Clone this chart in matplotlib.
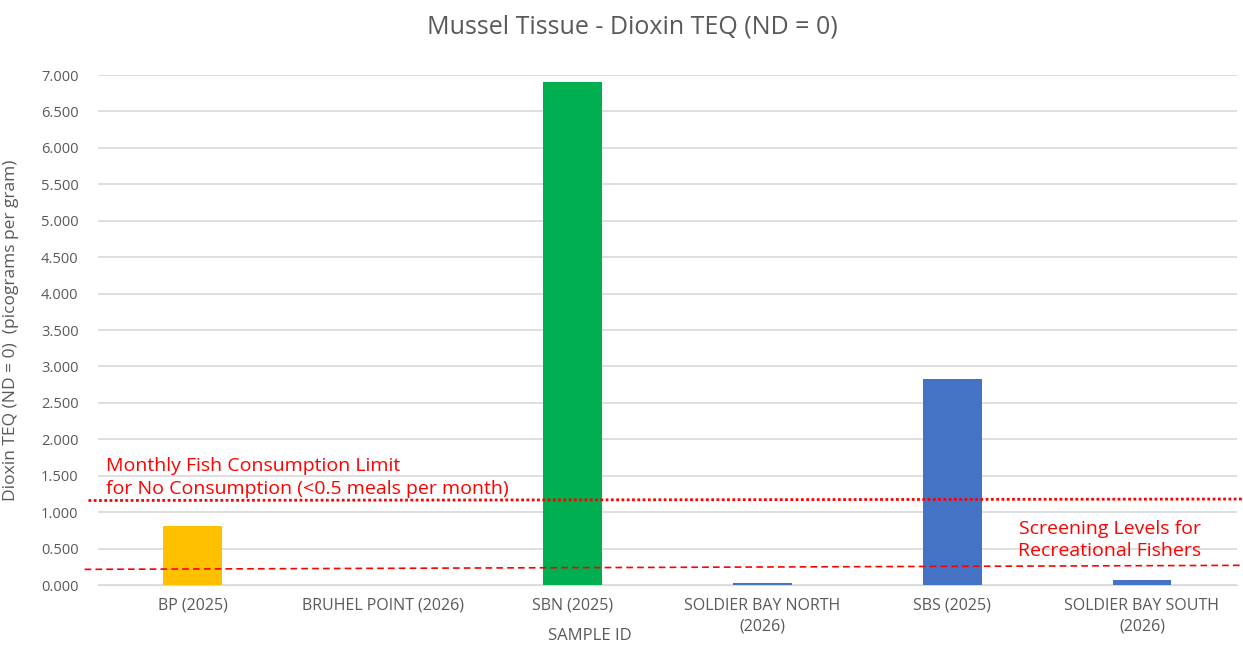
import matplotlib
matplotlib.use('Agg')
import matplotlib.pyplot as plt
import numpy as np

plt.rcParams['font.family'] = ['Open Sans', 'DejaVu Sans']

samples = ['BP (2025)', 'BRUHEL POINT (2026)', 'SBN (2025)',
           'SOLDIER BAY NORTH\n(2026)', 'SBS (2025)', 'SOLDIER BAY SOUTH\n(2026)']
teq = [0.815, 0.0, 6.905, 0.03, 2.83, 0.07]
bar_colors = ['#FFC000', '#4472C4', '#00B050', '#4472C4', '#4472C4', '#4472C4']

# reference lines drawn as slightly tilted shapes (start, end)
fish_limit = [1.16, 1.18]
screening = [0.215, 0.27]

yticks = np.arange(0, 7.01, 0.5)

fig = plt.figure(figsize=(12.43, 6.46), dpi=100)
fig.patch.set_facecolor('white')
ax = fig.add_axes([0.0788, 0.0944, 0.9163, 0.7895])

x = np.arange(len(samples))
ax.bar(x, teq, 0.31, color=bar_colors, zorder=3)

ax.set_xlim(-0.5, 5.5)
ax.set_ylim(0, 7.0)
ax.set_yticks(yticks)
ax.set_yticklabels([f'{v:.3f}' for v in yticks], fontsize=10.5, color='#595959')
ax.set_xticks(x)
ax.set_xticklabels(samples, fontsize=11.5, color='#595959', linespacing=1.45)
ax.tick_params(length=0, pad=14)
ax.tick_params(axis='x', pad=9)

for s in ['top', 'right', 'left']:
    ax.spines[s].set_visible(False)
ax.spines['bottom'].set_color('#D9D9D9')
ax.grid(axis='y', color='#D9D9D9', linewidth=1.2, zorder=0)
ax.set_axisbelow(True)

ax.set_title('Mussel Tissue - Dioxin TEQ (ND = 0)', fontsize=18, color='#595959', pad=30, x=0.469)
ax.set_xlabel('SAMPLE ID', fontsize=12, color='#595959')
ax.xaxis.set_label_coords(0.432, -0.085)
ax.set_ylabel('Dioxin TEQ (ND = 0)  (picograms per gram)', fontsize=12.5, color='#595959')
ax.yaxis.set_label_coords(-0.069, 0.5)

ax.plot([-0.55, 5.53], fish_limit, color='#FF0000', linestyle=(0, (1, 0.9)),
        linewidth=2, clip_on=False, zorder=4)
ax.plot([-0.57, 5.53], screening, color='#FF0000', linestyle=(0, (4, 2.5)),
        linewidth=1.2, clip_on=False, zorder=4)

ax.text(-0.455, 1.2, 'Monthly Fish Consumption Limit\nfor No Consumption (<0.5 meals per month)',
        fontsize=14, color='#FF0000', ha='left', va='bottom', linespacing=1.3)
ax.text(4.83, 0.34, 'Screening Levels for\nRecreational Fishers',
        fontsize=14, color='#FF0000', ha='center', va='bottom', linespacing=1.3)

plt.savefig('out.png', dpi=100, facecolor='white')
